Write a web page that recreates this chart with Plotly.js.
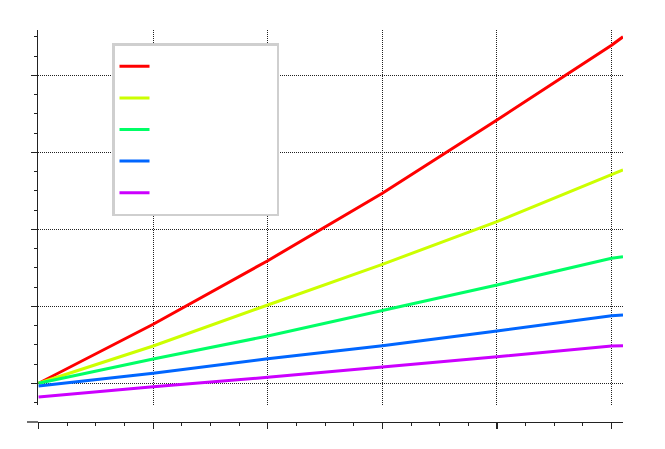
<!DOCTYPE html>
<html>
<head>
<meta charset="utf-8">
<script src="https://cdn.plot.ly/plotly-3.0.1.min.js"></script>
<style>html,body{margin:0;padding:0;background:#fff;}#chart{width:665px;height:449px;}</style>
</head>
<body>
<div id="chart"></div>
<script>
// Data
const xValues = [0, 1, 2, 3, 4, 5, 5.1];
const series1 = [0, 0.766, 1.592, 2.468, 3.419, 4.39, 4.50];
const series2 = [0, 0.484, 1.017, 1.545, 2.099, 2.70, 2.77];
const series3 = [0, 0.316, 0.614, 0.943, 1.277, 1.623, 1.644];
const series4 = [-0.035, 0.13, 0.319, 0.488, 0.679, 0.878, 0.887];
const series5 = [-0.178, -0.044, 0.078, 0.208, 0.345, 0.484, 0.488];
const seriesColors = ['#ff0000', '#ccff00', '#00ff66', '#0066ff', '#cc00ff'];
const allSeries = [series1, series2, series3, series4, series5];

// legend entries carry no visible text in the reference
const blankName = '\u00a0'.repeat(16) + '\u2009';
const traces = allSeries.map((ys, i) => ({
  x: xValues, y: ys, type: 'scatter', mode: 'lines',
  name: blankName,
  line: {color: seriesColors[i], width: 3}
}));

const gridDash = '1px,1px';
const layout = {
  width: 665, height: 449,
  margin: {l: 38, r: 42, t: 30, b: 27},
  paper_bgcolor: '#fff', plot_bgcolor: '#fff',
  showlegend: true,
  legend: {
    x: (112 - 38) / 585, y: (422 - 43) / 392, xanchor: 'left', yanchor: 'top',
    bgcolor: '#fff', bordercolor: '#cfcfcf', borderwidth: 2.5,
    font: {family: 'DejaVu Sans', size: 22, color: '#000'},
    tracegroupgap: 0
  },
  xaxis: {
    range: [-0.005, 5.1], anchor: 'free', position: 0,
    showline: true, linecolor: '#222', linewidth: 1.3,
    ticks: 'outside', ticklen: 6, tickwidth: 1.3, tickcolor: '#222',
    dtick: 1, tick0: 0, showticklabels: false,
    showgrid: true, gridcolor: '#222', griddash: gridDash, gridwidth: 1,
    zeroline: false,
    minor: {dtick: 0.25, ticks: 'outside', ticklen: 3, tickcolor: '#222', tickwidth: 1, showgrid: false}
  },
  yaxis: {
    range: [-0.282, 4.588], domain: [17 / 392, 1],
    showline: true, linecolor: '#222', linewidth: 1.3,
    ticks: 'outside', ticklen: 6, tickwidth: 1.3, tickcolor: '#222',
    dtick: 1, tick0: 0, showticklabels: false,
    showgrid: true, gridcolor: '#222', griddash: gridDash, gridwidth: 1,
    zeroline: false,
    minor: {dtick: 0.25, ticks: 'outside', ticklen: 3, tickcolor: '#222', tickwidth: 1, showgrid: false}
  },
  shapes: [{
    type: 'line', xref: 'paper', yref: 'paper',
    x0: -11 / 585, x1: 0, y0: 0, y1: 0,
    line: {color: '#222', width: 1.3}
  }]
};

Plotly.newPlot('chart', traces, layout, {displayModeBar: false, staticPlot: true});
</script>
</body>
</html>
